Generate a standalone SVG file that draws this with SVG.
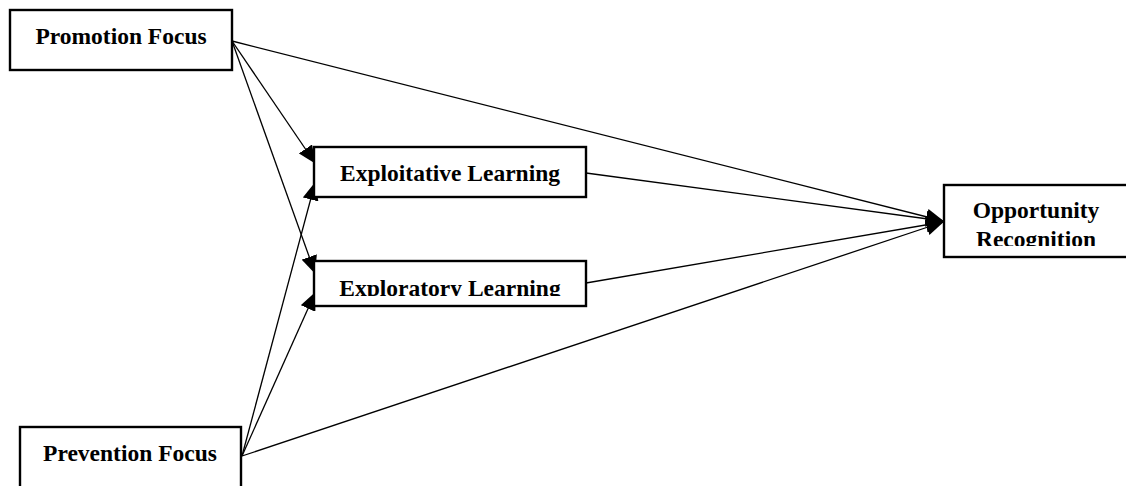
<svg xmlns="http://www.w3.org/2000/svg" width="1126" height="486" viewBox="0 0 1126 486">
<style>
.box{fill:#fff;stroke:#000;stroke-width:2.4}
.lbl{font-family:"Liberation Serif","Times New Roman",serif;font-weight:bold;font-size:23.5px;fill:#000;text-anchor:middle}
.edge{stroke:#000;stroke-width:1.3;fill:none;marker-end:url(#arr)}
</style>
<defs>
<marker id="arr" markerUnits="userSpaceOnUse" markerWidth="18" markerHeight="16" viewBox="0 0 18 16" refX="17" refY="8" orient="auto">
<path d="M0,0 L18,8 L0,16 Z" fill="#000"/>
</marker>
<clipPath id="c1"><rect x="314" y="261" width="272" height="35"/></clipPath>
<clipPath id="c2"><rect x="944" y="185" width="182" height="61"/></clipPath>
</defs>
<rect width="1126" height="486" fill="#fff"/>
<g id="connectors">
<line class="edge" x1="232" y1="41" x2="943" y2="221"/>
<line class="edge" x1="232" y1="41" x2="315" y2="163"/>
<line class="edge" x1="232" y1="41" x2="315" y2="273"/>
<line class="edge" x1="242" y1="456" x2="315" y2="183"/>
<line class="edge" x1="242" y1="456" x2="315" y2="293"/>
<line class="edge" x1="242" y1="456" x2="943" y2="222"/>
<line class="edge" x1="586" y1="173" x2="943" y2="221"/>
<line class="edge" x1="586" y1="283" x2="943" y2="222"/>
</g>
<g id="promotion">
<rect class="box" x="10" y="10" width="222" height="60"/>
<text class="lbl" x="121" y="44">Promotion Focus</text>
</g>
<g id="exploitative">
<rect class="box" x="314" y="147" width="272" height="50"/>
<text class="lbl" x="450" y="181">Exploitative Learning</text>
</g>
<g id="exploratory">
<rect class="box" x="314" y="261" width="272" height="45"/>
<text class="lbl" x="450" y="296" clip-path="url(#c1)">Exploratory Learning</text>
</g>
<g id="opportunity">
<rect class="box" x="944" y="185" width="200" height="72"/>
<text class="lbl" x="1036" y="218">Opportunity</text>
<text class="lbl" x="1036" y="247" clip-path="url(#c2)">Recognition</text>
</g>
<g id="prevention">
<rect class="box" x="20" y="427" width="221" height="70"/>
<text class="lbl" x="130" y="461">Prevention Focus</text>
</g>
</svg>
